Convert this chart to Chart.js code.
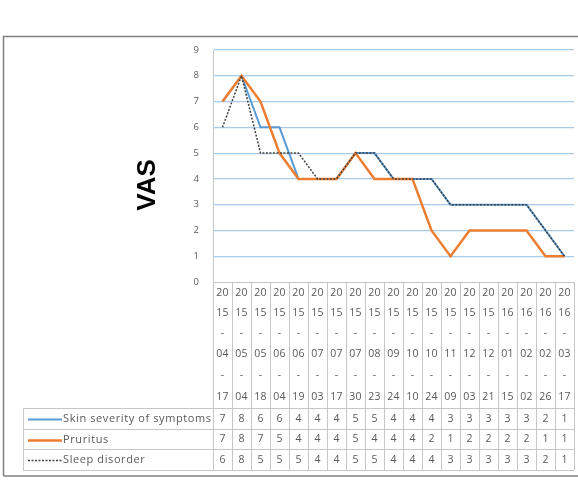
<!DOCTYPE html>
<html>
<head>
<meta charset="utf-8">
<script src="https://cdn.jsdelivr.net/npm/chart.js@4/dist/chart.umd.min.js"></script>
<style>
  html, body { margin: 0; padding: 0; background: #fff; }
  #wrap { width: 578px; height: 483px; position: relative; }
</style>
</head>
<body>
<div id="wrap"><canvas id="c" width="578" height="483"></canvas></div>
<script>
const categories = ["2015-04-17","2015-05-04","2015-05-18","2015-06-04","2015-06-19","2015-07-03","2015-07-17","2015-07-30","2015-08-23","2015-09-24","2015-10-10","2015-10-24","2015-11-09","2015-12-03","2015-12-21","2016-01-15","2016-02-02","2016-02-26","2016-03-17"];
const seriesNames = ["Skin severity of symptoms", "Pruritus", "Sleep disorder"];
const skinSeverity = [7,8,6,6,4,4,4,5,5,4,4,4,3,3,3,3,3,2,1];
const pruritus     = [7,8,7,5,4,4,4,5,4,4,4,2,1,2,2,2,2,1,1];
const sleepDisorder= [6,8,5,5,5,4,4,5,5,4,4,4,3,3,3,3,3,2,1];
const yTicks = [0,1,2,3,4,5,6,7,8,9];
const axisTitle = "VAS";

const TEXT = "#595959";
const FONT = "'Open Sans', 'DejaVu Sans', sans-serif";

const tablePlugin = {
  id: 'dataTable',
  afterDraw(chart) {
    const ctx = chart.ctx;
    const xs = chart.scales.x;
    const area = chart.chartArea;
    const n = categories.length;
    const colW = (area.right - area.left) / n;
    const headTop = 282;
    const rowEdges = [408, 429, 449, 470];
    const legendLeft = 23;
    ctx.save();
    // outer frame
    ctx.strokeStyle = "#808080";
    ctx.lineWidth = 1.5;
    ctx.beginPath();
    ctx.moveTo(3.5, 476); ctx.lineTo(3.5, 36.5); ctx.lineTo(580, 36.5);
    ctx.moveTo(3.5, 476); ctx.lineTo(580, 476);
    ctx.stroke();

    // grid of table
    ctx.strokeStyle = "#c6c6c6";
    ctx.lineWidth = 1;
    ctx.beginPath();
    for (let i = 0; i <= n; i++) {
      const x = Math.round(area.left + i * colW) + 0.5;
      ctx.moveTo(x, headTop); ctx.lineTo(x, rowEdges[rowEdges.length - 1]);
    }
    ctx.moveTo(area.left, headTop + 0.5); ctx.lineTo(area.right, headTop + 0.5);
    rowEdges.forEach(y => { ctx.moveTo(legendLeft, y + 0.5); ctx.lineTo(area.right, y + 0.5); });
    ctx.moveTo(legendLeft + 0.5, rowEdges[0]); ctx.lineTo(legendLeft + 0.5, rowEdges[rowEdges.length - 1]);
    ctx.stroke();

    // header labels
    ctx.fillStyle = TEXT;
    ctx.font = "10.5px " + FONT;
    ctx.letterSpacing = "0.3px";
    ctx.textAlign = "center";
    ctx.textBaseline = "middle";
    const lineY = [293, 313, 333, 354, 375, 397];
    categories.forEach((c, i) => {
      const x = xs.getPixelForValue(i);
      const parts = [c.slice(0, 2), c.slice(2, 4), "-", c.slice(5, 7), "-", c.slice(8, 10)];
      parts.forEach((p, k) => ctx.fillText(p, x, lineY[k]));
    });

    // data rows
    const datasets = chart.data.datasets;
    datasets.forEach((ds, r) => {
      const yc = (rowEdges[r] + rowEdges[r + 1]) / 2 + 0.5;
      ctx.font = "10.5px " + FONT;
      ctx.letterSpacing = "0px";
      ctx.textAlign = "center";
      ds.data.forEach((v, i) => ctx.fillText(String(v), xs.getPixelForValue(i), yc));
      // legend key
      ctx.save();
      ctx.strokeStyle = ds.borderColor;
      ctx.lineWidth = ds.borderWidth;
      ctx.setLineDash(ds.borderDash || []);
      ctx.beginPath();
      ctx.moveTo(28, Math.round(yc) + 0.5); ctx.lineTo(62, Math.round(yc) + 0.5);
      ctx.stroke();
      ctx.restore();
      ctx.font = "11px " + FONT;
      ctx.letterSpacing = "0.6px";
      ctx.textAlign = "left";
      ctx.fillText(seriesNames[r], 63, yc);
    });
    ctx.letterSpacing = "0px";

    // axis title
    ctx.save();
    ctx.translate(148, 185);
    ctx.rotate(-Math.PI / 2);
    ctx.fillStyle = "#000";
    ctx.font = "bold 26px 'Liberation Sans', Arial, sans-serif";
    ctx.textAlign = "center";
    ctx.textBaseline = "middle";
    ctx.fillText(axisTitle, 0, 0);
    ctx.restore();
    ctx.restore();
  }
};

new Chart(document.getElementById('c'), {
  type: 'line',
  data: {
    labels: categories,
    datasets: [
      { label: seriesNames[0], data: skinSeverity, borderColor: "#5b9bd5", borderWidth: 2, order: 2 },
      { label: seriesNames[1], data: pruritus, borderColor: "#ed7d31", borderWidth: 2.5, order: 1 },
      { label: seriesNames[2], data: sleepDisorder, borderColor: "#404040", borderWidth: 1.5, borderDash: [2, 1.5], order: 0 }
    ]
  },
  options: {
    responsive: false,
    animation: false,
    events: [],
    elements: { line: { tension: 0 }, point: { radius: 0 } },
    layout: { padding: { left: 173, right: 4, top: 50, bottom: 201 } },
    plugins: { legend: { display: false }, tooltip: { enabled: false }, title: { display: false } },
    scales: {
      x: { display: false, offset: true },
      y: {
        min: 0, max: 9,
        afterFit(s) { s.width = 40; },
        afterBuildTicks(s) { s.ticks = yTicks.map(v => ({ value: v })); },
        ticks: { color: TEXT, font: { size: 9.5, family: FONT }, padding: 14 },
        grid: {
          drawTicks: false,
          color: (c) => c.tick && c.tick.value === 0 ? "rgba(0,0,0,0)" : "#a8cbea",
          lineWidth: 1.2
        },
        border: { display: true, color: "#c6c6c6", width: 1 }
      }
    }
  },
  plugins: [tablePlugin]
});
</script>
</body>
</html>
